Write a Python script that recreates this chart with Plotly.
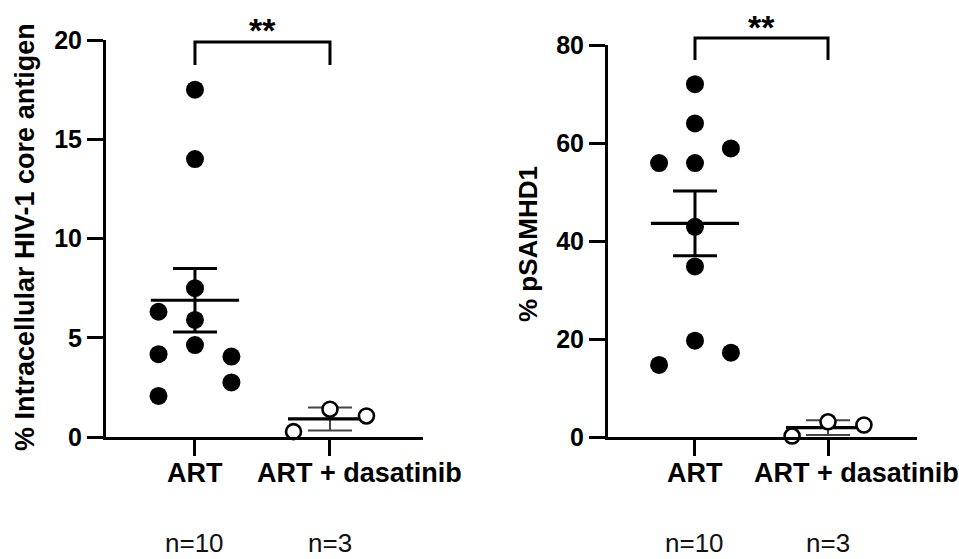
import numpy as np
import plotly.graph_objects as go

# ---------------- data ----------------
categories = ["ART", "ART + dasatinib"]
n_labels = ["n=10", "n=3"]

# Left panel: % Intracellular HIV-1 core antigen
hiv_art = [17.5, 14.0, 7.5, 5.9, 4.63, 6.31, 4.17, 2.07, 4.05, 2.75]
hiv_das = [0.27, 1.40, 1.06]
hiv_err = [1.6, 0.58]          # error bar half-lengths as drawn

# Right panel: % pSAMHD1
psamhd1_art = [72.0, 64.0, 58.9, 55.9, 55.9, 42.9, 34.8, 19.65, 17.2, 14.7]
psamhd1_das = [0.2, 3.1, 2.45]
psamhd1_err = [6.6, 1.5]

# beeswarm column of each point (-1 left, 0 centre, 1 right)
hiv_art_col = [0, 0, 0, 0, 0, -1, -1, -1, 1, 1]
hiv_das_col = [-1, 0, 1]
ps_art_col = [0, 0, 1, -1, 0, 0, 0, 0, 1, -1]
ps_das_col = [-1, 0, 1]

y_titles = ["% Intracellular HIV-1 core antigen", "% pSAMHD1"]
left_ticks = [0, 5, 10, 15, 20]
right_ticks = [0, 20, 40, 60, 80]
signif = "**"

# ---------------- styling ----------------
W, H = 959, 559
FONT = "Liberation Sans, Arial, sans-serif"
SPREAD = 0.27


def px_x(p):
    return p / W


def px_y(p):
    return (H - p) / H


fig = go.Figure()


def add_group(xa, ya, gi, vals, cols, err, filled):
    xs = [gi + c * SPREAD for c in cols]
    mean = float(np.mean(vals))
    bar_col = "black" if filled else "#444444"
    bar_w = 3 if filled else 2
    # mean line + error bar
    fig.add_trace(go.Scatter(
        x=[gi], y=[mean], xaxis=xa, yaxis=ya, mode="markers",
        marker=dict(symbol="line-ew", size=63 if filled else 60, color="black",
                    line=dict(width=3.2, color="black")),
        error_y=dict(type="data", array=[err], width=22,
                     thickness=bar_w, color=bar_col),
        cliponaxis=False, showlegend=False, hoverinfo="skip"))
    if filled:
        marker = dict(symbol="circle", size=18, color="black",
                      line=dict(width=0))
    else:
        marker = dict(symbol="circle", size=15, color="white",
                      line=dict(width=2.6, color="black"))
    fig.add_trace(go.Scatter(
        x=xs, y=vals, xaxis=xa, yaxis=ya, mode="markers",
        marker=marker, cliponaxis=False, showlegend=False))


add_group("x", "y", 0, hiv_art, hiv_art_col, hiv_err[0], True)
add_group("x", "y", 1, hiv_das, hiv_das_col, hiv_err[1], False)
add_group("x2", "y2", 0, psamhd1_art, ps_art_col, psamhd1_err[0], True)
add_group("x2", "y2", 1, psamhd1_das, ps_das_col, psamhd1_err[1], False)

axis_common = dict(
    showline=True, linewidth=3, linecolor="black",
    ticks="outside", ticklen=16, tickwidth=3, tickcolor="black",
    showgrid=False, zeroline=False, automargin=False,
)

fig.update_layout(
    width=W, height=H,
    margin=dict(l=0, r=0, t=0, b=0),
    paper_bgcolor="white", plot_bgcolor="white",
    font=dict(family=FONT, color="black"),
    xaxis=dict(domain=[px_x(106), px_x(423)], range=[-0.659, 1.689],
               tickmode="array", tickvals=[0, 1], ticktext=["", ""],
               anchor="y", **axis_common),
    yaxis=dict(domain=[px_y(437), px_y(40)], range=[0, 20],
               tickmode="array", tickvals=left_ticks,
               ticktext=["<b>%d</b>" % t for t in left_ticks],
               tickfont=dict(size=25), anchor="x", **axis_common),
    xaxis2=dict(domain=[px_x(608), px_x(917)], range=[-0.654, 1.669],
                tickmode="array", tickvals=[0, 1], ticktext=["", ""],
                anchor="y2", **axis_common),
    yaxis2=dict(domain=[px_y(437), px_y(45)], range=[0, 80],
                tickmode="array", tickvals=right_ticks,
                ticktext=["<b>%d</b>" % t for t in right_ticks],
                tickfont=dict(size=25), anchor="x2", **axis_common),
)

# category labels (the long one sits right of its tick, as in the original)
for xa, shifts in [("x", [0, 30]), ("x2", [0, 28])]:
    for i, cat in enumerate(categories):
        fig.add_annotation(x=i, xref=xa, y=px_y(473), yref="paper",
                           text="<b>%s</b>" % cat, showarrow=False,
                           font=dict(size=27, family=FONT),
                           xanchor="center", yanchor="middle",
                           xshift=shifts[i])

# significance brackets
for xa, top, leg in [("x", 42, 65), ("x2", 38, 60)]:
    fig.add_shape(type="path", xref=xa, yref="paper",
                  path="M 0,%f L 0,%f L 1,%f L 1,%f" % (
                      px_y(leg), px_y(top), px_y(top), px_y(leg)),
                  line=dict(color="black", width=3))

for xa, ypx in [("x", 20), ("x2", 17)]:
    fig.add_annotation(x=0.5, xref=xa, y=px_y(ypx), yref="paper",
                       text="<b>%s</b>" % signif, showarrow=False,
                       font=dict(size=34, family=FONT),
                       xanchor="center", yanchor="middle", yshift=-10)

# y-axis titles
fig.add_annotation(x=px_x(25), xref="paper", y=px_y(237), yref="paper",
                   text="<b>%s</b>" % y_titles[0], textangle=-90,
                   showarrow=False, font=dict(size=27, family=FONT),
                   xanchor="center", yanchor="middle")
fig.add_annotation(x=px_x(528), xref="paper", y=px_y(244), yref="paper",
                   text="<b>%s</b>" % y_titles[1], textangle=-90,
                   showarrow=False, font=dict(size=26, family=FONT),
                   xanchor="center", yanchor="middle")

# n labels
for xa in ["x", "x2"]:
    for i, lab in enumerate(n_labels):
        fig.add_annotation(x=i, xref=xa, y=px_y(543), yref="paper",
                           text=lab, showarrow=False,
                           font=dict(size=26, family=FONT, color="#111111"),
                           xanchor="center", yanchor="middle")

fig.write_html("out.html")
